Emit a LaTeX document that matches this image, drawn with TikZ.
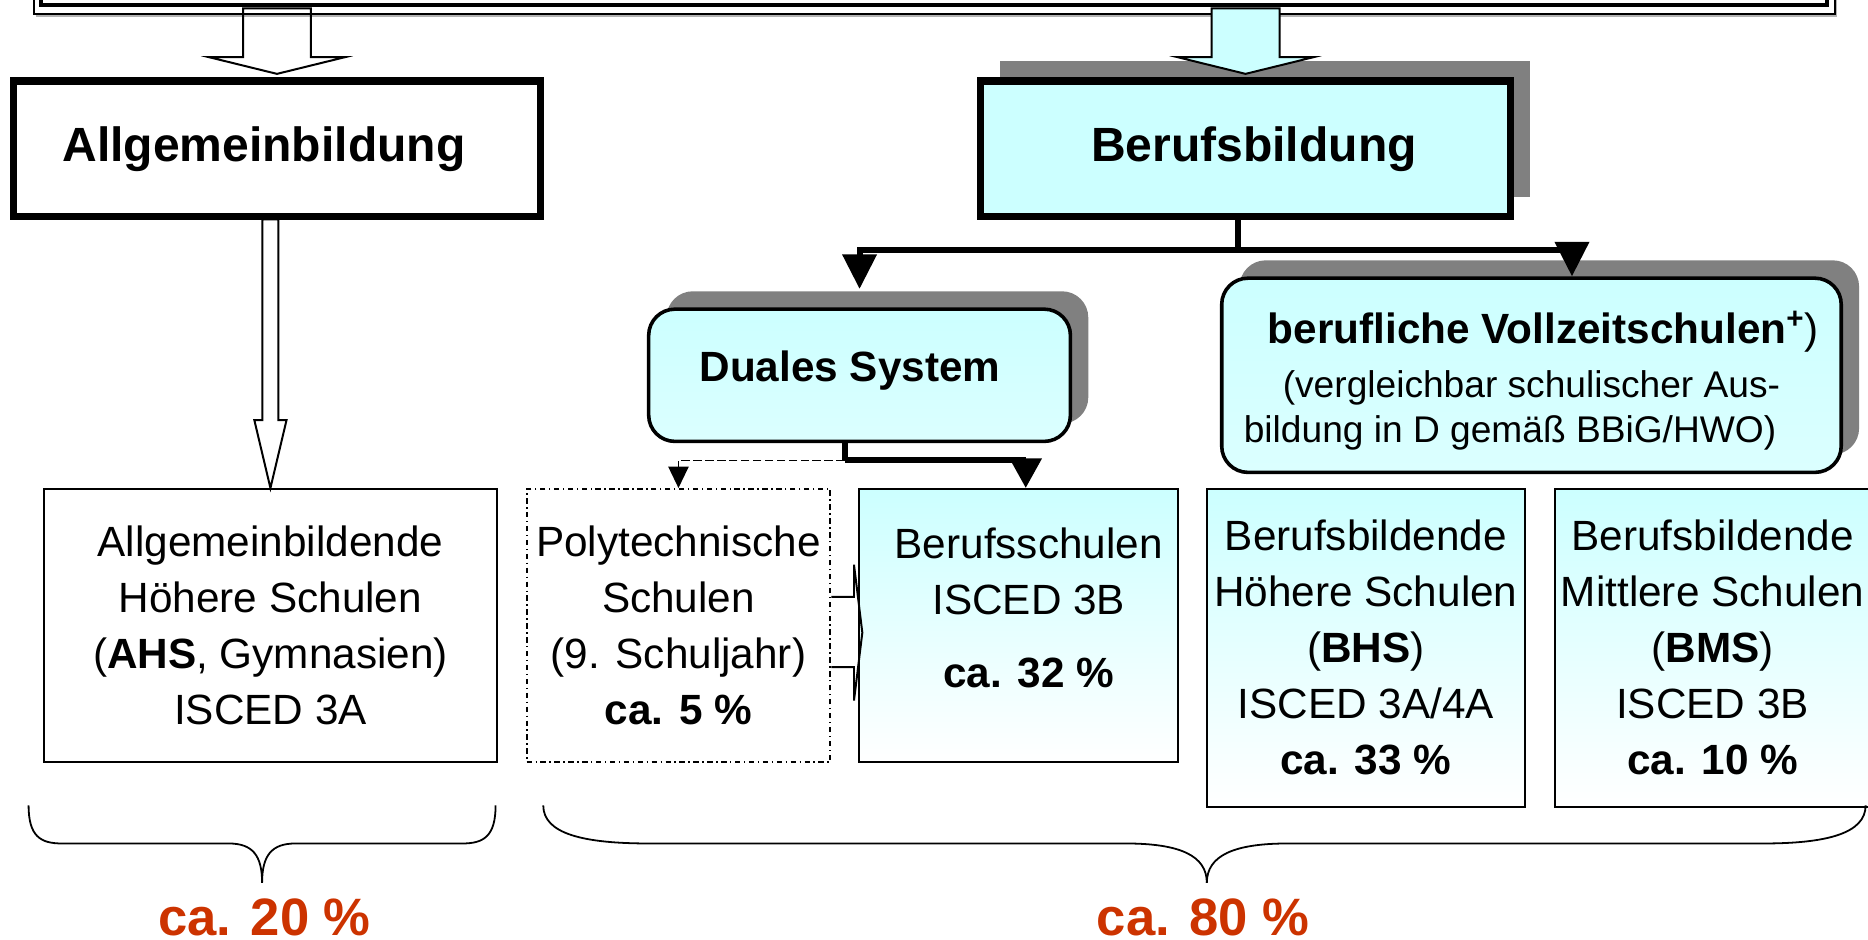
\documentclass[tikz,border=0pt]{standalone}
\usepackage{fontspec}
\setmainfont{Liberation Sans}
\usepackage{tikz}
\usetikzlibrary{arrows.meta,calc,shadows}

\definecolor{cyanfill}{HTML}{CCFFFF}
\definecolor{shadowgray}{HTML}{808080}
\definecolor{pctred}{HTML}{CC3300}
\newlength{\px}\setlength{\px}{0.6pt}
\newcommand{\bodyfont}{\fontsize{21.3}{28.2}\selectfont}
\newcommand{\headfont}{\fontsize{24.2}{29}\selectfont\bfseries}
\newcommand{\subfont}{\fontsize{18.7}{22.8}\selectfont}
\newcommand{\pctfont}{\fontsize{26.5}{32}\selectfont\bfseries}

\begin{document}
\begin{tikzpicture}[x=0.6pt,y=-0.6pt,
    head box/.style={draw,line width=3.6pt,minimum width=443\px,minimum height=114\px,font=\headfont},
    round box/.style={draw,line width=1.8pt,rounded corners=22\px,align=center,inner sep=2pt,
      top color=cyanfill,bottom color=cyanfill!70!white,
      drop shadow={shadow xshift=15\px,shadow yshift=15\px,fill=shadowgray,opacity=1}},
    school box/.style={draw,line width=1pt,inner sep=2pt,align=center,font=\bodyfont},
    light box/.style={school box,top color=cyanfill,bottom color=white},
    branch/.style={line width=3pt,-{Triangle[width=16.8pt,length=17.4pt]}},
    hollow/.style={line width=1pt,line join=miter},
    brace/.style={line width=0.9pt},
    share/.style={font=\pctfont,text=pctred,anchor=base,inner sep=0pt}]

  \useasboundingbox (0,0) rectangle (1568,789);
  \clip (0,0) rectangle (1568,789);

  % frame at the top, only its lower edge is seen
  \node[draw,line width=2.1pt,minimum width=1499\px,minimum height=104.5\px] (top) at (784.25,-48) {};
  \draw[shadowgray!60,line width=1pt] ($(top.south west)+(-3,7.5)$) -- ($(top.south east)+(6,7.5)$) -- ($(top.north east)+(6,0)$);
  \draw[line width=0.9pt] ($(top.south west)+(-4.75,5.75)$) rectangle ($(top.north east)+(4.75,-10)$);

  \node[head box] (allg) at (232.5,125) {Allgemeinbildung\hspace*{22\px}};
  \node[head box,fill=cyanfill,minimum width=445\px,
    drop shadow={shadow xshift=16\px,shadow yshift=17\px,fill=shadowgray,opacity=1}] (beruf) at (1045.5,125) {\hspace*{14\px}Berufsbildung};

  \node[round box,minimum width=354\px,minimum height=111\px,font=\bodyfont\bfseries] (duales) at (721.5,315)
    {Duales System\hspace*{16\px}\\[-31\px]\mbox{}};
  \node[round box,minimum width=520\px,minimum height=163\px,font=\subfont] (voll) at (1285.5,315)
    {\mbox{}\\[-2\px]
     \hspace*{20\px}{\bodyfont\bfseries berufliche Vollzeitschulen\textsuperscript{+}\textmd{)}}\\[7\px]
     (vergleichbar schulischer Aus-\hspace*{12\px}\\bildung in D gemäß BBiG/HWO)\hspace*{36\px}};

  \node[school box,minimum width=380\px,minimum height=229\px] (ahs) at (227,525)
    {Allgemeinbildende\\Höhere Schulen\\(\textbf{AHS}, Gymnasien)\\ISCED 3A};
  \node[school box,dash pattern=on 2.7pt off 1.8pt on 0.7pt off 1.8pt,minimum width=255\px,minimum height=229\px] (poly) at (569.5,525)
    {Polytechnische\\Schulen\\(9. Schuljahr)\\\textbf{ca. 5 \%}};
  \node[light box,minimum width=268\px,minimum height=229\px] (bs) at (855,525)
    {\hspace*{17\px}Berufsschulen\\\hspace*{17\px}ISCED 3B\\[14\px]\hspace*{17\px}\textbf{ca. 32 \%}\\[-17\px]\mbox{}};
  \node[light box,minimum width=267\px,minimum height=266.5\px] (bhs) at (1146.5,543.75)
    {Berufsbildende\\Höhere Schulen\\(\textbf{BHS})\\ISCED 3A/4A\\\textbf{ca. 33 \%}};
  \node[light box,minimum width=265\px,minimum height=266.5\px] (bms) at (1437.5,543.75)
    {Berufsbildende\\Mittlere Schulen\\(\textbf{BMS})\\ISCED 3B\\\textbf{ca. 10 \%}};

  \node[share] (p20) at (222,785) {ca. 20 \%};
  \node[share] (p80) at (1010,785) {ca. 80 \%};

  % block arrows
  \draw[hollow] ($(allg.north)+(0,-3)$) -- ++(-57,-14) -- ++(28.5,0) -- ++(0,-41) -- ++(57,0) -- ++(0,41) -- ++(28.5,0) -- cycle;
  \draw[hollow,fill=cyanfill] ($(beruf.north)+(0,-3)$) -- ++(-57,-14) -- ++(28.5,0) -- ++(0,-41) -- ++(57,0) -- ++(0,41) -- ++(28.5,0) -- cycle;
  \draw[hollow] (ahs.north) -- ++(-13.5,-57) -- ++(6.75,0) -- ++(0,-168.5) -- ++(13.5,0) -- ++(0,168.5) -- ++(6.75,0) -- cycle;
  \draw[hollow] ($(poly.east)+(0,-24)$) -- ++(19,0) -- ++(0,-27) -- ++(7,57) -- ++(-7,57) -- ++(0,-28) -- ++(-19,0);

  % branches
  \draw[line width=3pt] ($(beruf.south)+(-6,0)$) -- ++(0,24.5) coordinate (bsplit);
  \draw[branch] (bsplit) -| ($(duales.north)+(0,-15.5)$);
  \draw[branch] (bsplit) -| ($(voll.north)+(34,0)$);
  \draw[line width=3pt] ($(duales.south)+(-12.5,0)$) -- ++(0,14.5) coordinate (dsplit);
  \draw[branch,-{Triangle[width=15.6pt,length=15pt]}] (dsplit) -| ($(bs.north)+(6,0)$);
  \draw[line width=0.8pt,dash pattern=on 4.2pt off 1.8pt,-{Triangle[width=10.2pt,length=10.8pt]}] (dsplit) -| (poly.north);

  % braces
  \draw[brace] (24,676) .. controls (24,702) and (34,708) .. (52,708) -- (192,708) .. controls (212,708) and (220,718) .. (220,741);
  \draw[brace] (416,676) .. controls (416,702) and (406,708) .. (388,708) -- (248,708) .. controls (228,708) and (220,718) .. (220,741);
  \draw[brace] (456,676) .. controls (456,700) and (490,708) .. (545,708) -- (945,708) .. controls (990,708) and (1013,718) .. (1013,741);
  \draw[brace] (1566,676) .. controls (1566,700) and (1532,708) .. (1480,708) -- (1081,708) .. controls (1036,708) and (1013,718) .. (1013,741);
\end{tikzpicture}
\end{document}
